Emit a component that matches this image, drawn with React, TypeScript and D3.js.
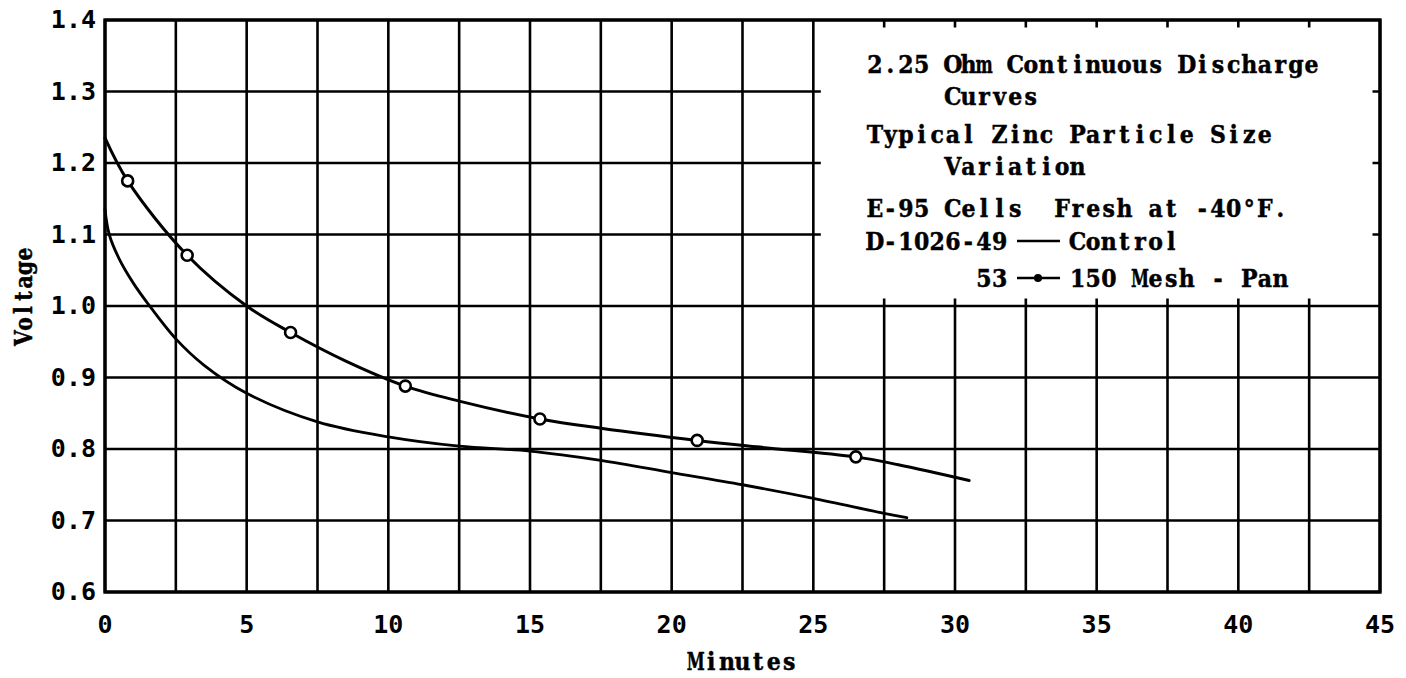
import React from "react";
import * as d3 from "d3";

// Axis ticks
const xTickValues = [0, 5, 10, 15, 20, 25, 30, 35, 40, 45];
const yTickValues = [0.6, 0.7, 0.8, 0.9, 1.0, 1.1, 1.2, 1.3, 1.4];
const yTickLabels = ["0.6", "0.7", "0.8", "0.9", "1.0", "1.1", "1.2", "1.3", "1.4"];

// D-1026-49 Control discharge trace (minutes, volts)
const controlMinutes = [0, 0.15, 0.5, 1.0, 1.5, 2.5, 3.5, 5, 7.5, 10, 12.5, 15, 17.5, 20, 22.5, 25, 27.5, 28.3];
const controlVolts = [1.135, 1.1, 1.066, 1.032, 1.004, 0.954, 0.917, 0.878, 0.838, 0.817, 0.804, 0.797, 0.784, 0.767, 0.75, 0.731, 0.71, 0.704];

// D-1026-53 150 Mesh - Pan discharge trace (minutes, volts)
const meshMinutes = [0, 0.8, 2.9, 5, 6.55, 8.5, 10.6, 12.5, 15.35, 17.5, 20.9, 23, 26.5, 28, 30.5];
const meshVolts = [1.235, 1.175, 1.071, 1.0, 0.963, 0.923, 0.888, 0.867, 0.842, 0.829, 0.812, 0.803, 0.789, 0.778, 0.756];

// Plotted readings on the 150 Mesh - Pan curve
const meshPointMinutes = [0.8, 2.9, 6.55, 10.6, 15.35, 20.9, 26.5];
const meshPointVolts = [1.175, 1.071, 0.963, 0.888, 0.842, 0.812, 0.789];

// Legend rows: column offset and text
const legendRows = [
  { col: 0, text: "2.25 Ohm Continuous Discharge" },
  { col: 5, text: "Curves" },
  { col: 0, text: "Typical Zinc Particle Size" },
  { col: 5, text: "Variation" },
  { col: 0, text: "E-95 Cells  Fresh at -40°F." },
  { col: 0, text: "D-1026-49" },
  { col: 13, text: "Control" },
  { col: 7, text: "53" },
  { col: 13, text: "150 Mesh - Pan" },
];
const legendBaselines = [73, 105, 143, 175, 217, 250, 250, 287, 287];

const W = 1406;
const H = 678;
const left = 105;
const right = 1380;
const top = 20;
const bottom = 592;

const x = d3.scaleLinear().domain([0, 45]).range([left, right]);
const y = d3.scaleLinear().domain([0.6, 1.4]).range([bottom, top]);

const serifFace = "'DejaVu Serif', 'Liberation Serif', serif";
const sansMono = "'DejaVu Sans Mono', monospace";
const COL = 15.6;
const WIDE = new Set(["m", "M", "w", "W"]);

// Typewriter-style text: every glyph centred in its own fixed-width cell
function Typed({
  x0,
  y0,
  text,
  col = COL,
  fs = 25,
  sx = 0.88,
}: {
  x0: number;
  y0: number;
  text: string;
  col?: number;
  fs?: number;
  sx?: number;
}) {
  const chars = Array.from(text);
  return (
    <g>
      {chars.map((c, i) =>
        c === " " ? null : (
          <text
            key={i}
            transform={`translate(${(x0 + (i + 0.5) * col).toFixed(2)},${y0}) scale(${WIDE.has(c) ? sx * 0.74 : sx},1)`}
            fontFamily={serifFace}
            fontWeight="bold"
            fontSize={fs}
            textAnchor="middle"
            fill="#000"
            stroke="#000"
            strokeWidth={0.5}
          >
            {c}
          </text>
        )
      )}
    </g>
  );
}

export default function App() {
  const line = d3
    .line<[number, number]>()
    .x((d) => x(d[0]))
    .y((d) => y(d[1]))
    .curve(d3.curveCatmullRom.alpha(0.5));

  const controlPath = line(controlMinutes.map((m, i) => [m, controlVolts[i]]) as [number, number][]) || "";
  const meshPath = line(meshMinutes.map((m, i) => [m, meshVolts[i]]) as [number, number][]) || "";

  const vGrid = d3.range(0, 45.001, 2.5);
  const hGrid = d3.range(0.6, 1.4001, 0.1);

  const legendLeft = x(25);
  const stub = 6;
  const legendX = 867;

  const minutesText = "Minutes";
  const voltageText = "Voltage";
  const vCol = 14;

  return (
    <svg width={W} height={H} style={{ position: "absolute", left: 0, top: 0, background: "#fff" }}>
      <rect x={0} y={0} width={W} height={H} fill="#fff" />
      {/* grid */}
      {vGrid.map((v) => (
        <line key={`v${v}`} x1={x(v)} x2={x(v)} y1={top} y2={bottom} stroke="#000" strokeWidth={2.6} />
      ))}
      {hGrid.map((v) => (
        <line key={`h${v.toFixed(1)}`} x1={left} x2={right} y1={y(v)} y2={y(v)} stroke="#000" strokeWidth={2.6} />
      ))}
      {/* legend panel blanks the grid, leaving short stubs at the edges */}
      <rect
        x={legendLeft + 1.5 + stub}
        y={top + 1.5 + stub}
        width={right - 1.5 - stub - (legendLeft + 1.5 + stub)}
        height={y(1.0) - 1.5 - stub - (top + 1.5 + stub)}
        fill="#fff"
      />
      {/* frame */}
      <rect x={left} y={top} width={right - left} height={bottom - top} fill="none" stroke="#000" strokeWidth={3.4} />

      {/* curves */}
      <path d={controlPath} fill="none" stroke="#000" strokeWidth={2.8} strokeLinecap="round" />
      <path d={meshPath} fill="none" stroke="#000" strokeWidth={3} strokeLinecap="round" />
      {meshPointMinutes.map((m, i) => (
        <circle key={`p${i}`} cx={x(m)} cy={y(meshPointVolts[i])} r={5.5} fill="#fff" stroke="#000" strokeWidth={2.6} />
      ))}

      {/* y tick labels */}
      {yTickValues.map((v, i) => (
        <text
          key={`yt${i}`}
          x={96}
          y={y(v) + 8}
          textAnchor="end"
          fontFamily={sansMono}
          fontWeight="bold"
          fontSize={25}
          fill="#000"
        >
          {yTickLabels[i]}
        </text>
      ))}
      {/* x tick labels */}
      {xTickValues.map((v) => (
        <text
          key={`xt${v}`}
          x={x(v)}
          y={633}
          textAnchor="middle"
          fontFamily={sansMono}
          fontWeight="bold"
          fontSize={25}
          fill="#000"
        >
          {String(v)}
        </text>
      ))}

      {/* axis titles */}
      <Typed x0={(left + right) / 2 - (minutesText.length * COL) / 2} y0={670} text={minutesText} />
      <g transform={`translate(32,${296 + (voltageText.length * vCol) / 2}) rotate(-90)`}>
        <Typed x0={0} y0={0} text={voltageText} col={vCol} fs={24} sx={0.85} />
      </g>

      {/* legend text */}
      {legendRows.map((r, i) => (
        <Typed key={`lg${i}`} x0={legendX + r.col * COL} y0={legendBaselines[i]} text={r.text} />
      ))}
      {/* legend keys */}
      <line x1={1017} x2={1060} y1={241} y2={241} stroke="#000" strokeWidth={2.6} />
      <line x1={1017} x2={1060} y1={278} y2={278} stroke="#000" strokeWidth={2.6} />
      <circle cx={1038} cy={278} r={4} fill="#000" />
    </svg>
  );
}
